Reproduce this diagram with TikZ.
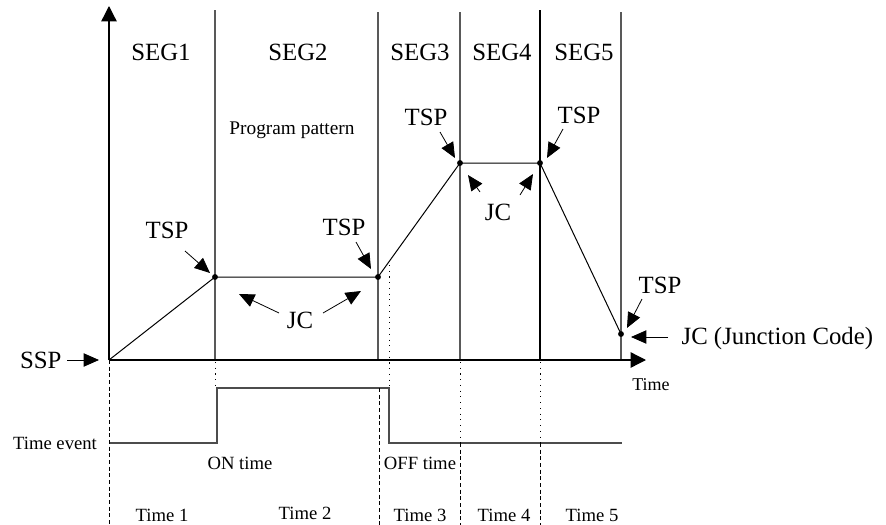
\documentclass[tikz,border=0pt]{standalone}
\usepackage{fontspec}
\setmainfont{Liberation Serif}
\usetikzlibrary{arrows.meta,calc}
\tikzset{
	big/.style={font=\fontsize{18.6}{20}\selectfont, inner sep=1pt},
	small/.style={font=\fontsize{14}{16}\selectfont, inner sep=1pt},
	pointer/.style={-{Triangle[length=11.5pt,width=10pt]}, line width=0.6pt},
	axis/.style={-{Triangle[length=11.5pt,width=11.5pt]}, line width=1pt},
	segline/.style={line width=0.8pt, black!65},
	eventline/.style={line width=0.9pt, black!70},
	guidedash/.style={line width=0.6pt, dash pattern=on 3pt off 2pt},
	guidedot/.style={line width=0.6pt, dash pattern=on 0.8pt off 3.5pt}
}

\begin{document}
\begin{tikzpicture}[x=0.75pt, y=-0.75pt]
				\useasboundingbox (0,0) rectangle (886,525);
				
				% set points of the program pattern
				\coordinate (o) at (109,360);
				\coordinate (pA) at (215,277);
				\coordinate (pB) at (378,277);
				\coordinate (pC) at (460,163);
				\coordinate (pD) at (540,163);
				\coordinate (pE) at (621,334);
				
				% segment borders
				\draw[segline] (215,10) -- (215,360);
				\draw[segline] (378,12) -- (378,360);
				\draw[segline] (460,12) -- (460,360);
				\draw[segline, black] (540,10) -- (540,360);
				\draw[segline] (621,12) -- (621,360);
				
				% axes
				\draw[axis] (o) -- (109,6);
				\draw[axis] (o) -- (646,360);
				\node[small, font=\fontsize{13.5}{15}\selectfont] (tlabel) at (651,385) {Time};
				
				% pattern
				\draw[line width=0.75pt] (o) -- (pA) -- (pB) -- (pC) -- (pD) -- (pE);
				\foreach \p in {pA,pB,pC,pD,pE}
					\fill (\p) circle (2.2pt);
				
				\node[big] (seg1) at (161,52) {SEG1};
				\node[big] (seg2) at (298,52) {SEG2};
				\node[big] (seg3) at (420,52) {SEG3};
				\node[big] (seg4) at (502,52) {SEG4};
				\node[big] (seg5) at (584,52) {SEG5};
				\node[small, font=\fontsize{14.5}{16}\selectfont] (pattern) at (292,130) {Program pattern};
				
				% target set points
				\node[big] (tspA) at ($(pA)+(-48,-47)$) {TSP};
				\draw[pointer] ($(pA)+(-30,-26)$) -- ($(pA)+(-5,-4)$);
				\node[big] (tspB) at ($(pB)+(-34,-50)$) {TSP};
				\draw[pointer] ($(pB)+(-22,-35)$) -- ($(pB)+(-7,-8)$);
				\node[big] (tspC) at ($(pC)+(-34,-46)$) {TSP};
				\draw[pointer] ($(pC)+(-20,-31)$) -- ($(pC)+(-5,-5)$);
				\node[big] (tspD) at ($(pD)+(39,-48)$) {TSP};
				\draw[pointer] ($(pD)+(23,-34)$) -- ($(pD)+(7,-5)$);
				\node[big] (tspE) at ($(pE)+(39,-49)$) {TSP};
				\draw[pointer] ($(pE)+(21,-35)$) -- ($(pE)+(6,-6)$);
				
				% junction codes
				\node[big] (jcA) at (300,320) {JC};
				\draw[pointer] ($(jcA)+(-21,-7)$) -- (239,294);
				\draw[pointer] ($(jcA)+(23,-7)$) -- (361,291);
				\node[big] (jcB) at (498,212) {JC};
				\draw[pointer] ($(jcB)+(-18,-20)$) -- (468,175);
				\draw[pointer] ($(jcB)+(22,-17)$) -- (533,174);
				\node[big, anchor=west] (jcE) at (680,339) {JC (Junction Code)};
				\draw[pointer] ($(pE)+(47,3)$) -- ($(pE)+(10,3)$);
				
				\node[big, anchor=east] (ssp) at (63,360) {SSP};
				\draw[pointer] (67,360) -- ($(o)+(-10,0)$);
				
				% time event
				\draw[eventline] (110,443) -- (217,443) -- (217,388) -- (389,388) -- (389,443) -- (622,443);
				\node[small] (tevent) at (55,443) {Time event};
				\node[small] (ontime) at (240,463) {ON time};
				\node[small] (offtime) at (420,463) {OFF time};
				
				\draw[guidedash] (o) -- (109,525);
				\draw[guidedot] (215,362) -- (215,388);
				\draw[guidedot] (389,265) -- (389,388);
				\draw[guidedash] (379,388) -- (379,525);
				\draw[guidedot] (460,362) -- (460,443);
				\draw[guidedash] (460,443) -- (460,525);
				\draw[guidedot] (540,362) -- (540,443);
				\draw[guidedash] (540,443) -- (540,525);
				
				\node[small] (time1) at (162,515) {Time 1};
				\node[small] (time2) at (305,513) {Time 2};
				\node[small] (time3) at (420,515) {Time 3};
				\node[small] (time4) at (504,515) {Time 4};
				\node[small] (time5) at (592,515) {Time 5};
			\end{tikzpicture}
\end{document}
